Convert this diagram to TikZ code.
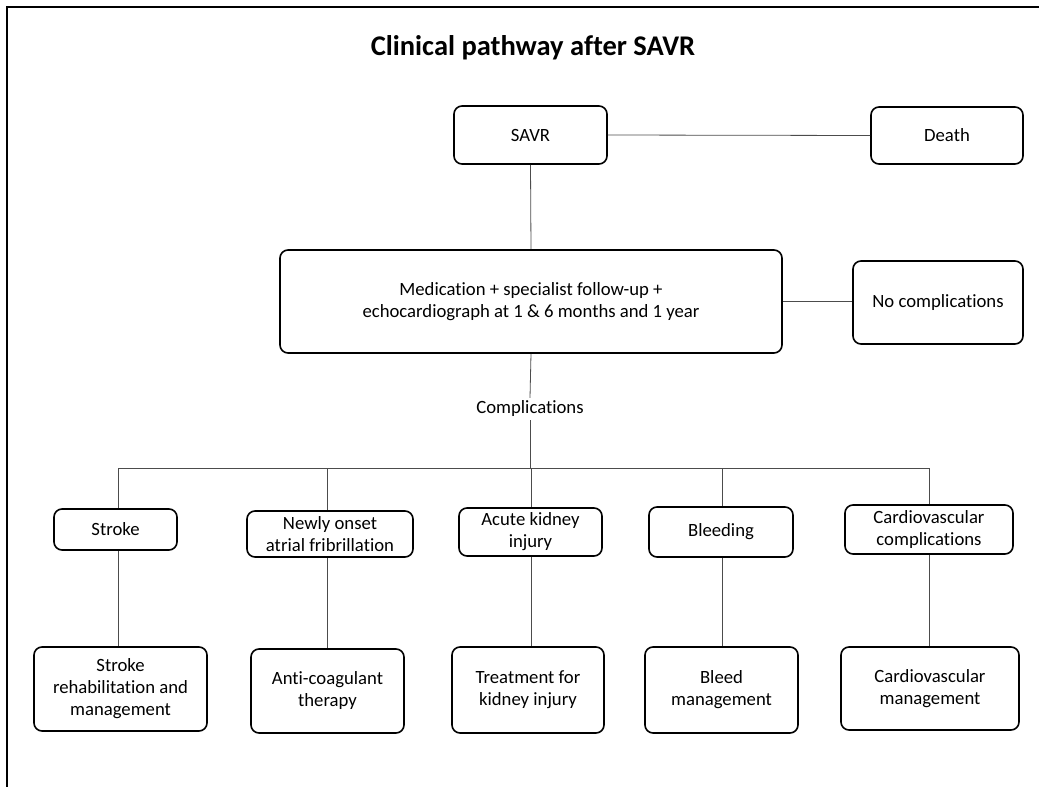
\documentclass[tikz,border=0pt]{standalone}
\usepackage{fontspec}
\setmainfont{Carlito}[Ligatures=NoCommon]
\begin{document}
\begin{tikzpicture}[x=1pt,y=-1pt,
  box/.style={draw=black, line width=1.6pt, rounded corners=8pt, fill=white, inner sep=0pt, align=center, font=\fontsize{18.7}{22}\selectfont},
  conn/.style={draw=black!70, line width=0.8pt},
  lbl/.style={inner sep=3pt, font=\fontsize{18.7}{22}\selectfont}]
\useasboundingbox (0,0) rectangle (1039,787);
\draw[line width=2pt] (7,787) -- (7,7) -- (1039,7);

\node[anchor=base, font=\fontsize{28.5}{32}\selectfont\bfseries] (title) at (533,55) {Clinical pathway after SAVR};

\node[box, minimum width=153pt, minimum height=58pt] (savr) at (530.5,135) {SAVR};
\node[box, minimum width=152pt, minimum height=57pt] (death) at (947,135.5) {Death};
\node[box, minimum width=502pt, minimum height=103pt] (med) at (531,301.5) {Medication + specialist follow-up +\\echocardiograph at 1 \& 6 months and 1 year};
\node[box, minimum width=170pt, minimum height=83pt] (nocomp) at (938,302.5) {No complications};
\node[lbl] (complab) at (530,409) {Complications};

\node[box, minimum width=123pt, minimum height=41pt] (stroke) at (115.5,529.5) {Stroke};
\node[box, minimum width=166pt, minimum height=46pt] (af) at (330,534) {Newly onset\\atrial fribrillation};
\node[box, minimum width=143pt, minimum height=48pt] (aki) at (530.5,532) {Acute kidney\\injury};
\node[box, minimum width=144pt, minimum height=50pt] (bleed) at (721,532) {Bleeding};
\node[box, minimum width=168pt, minimum height=49pt] (cvc) at (929,529.5) {Cardiovascular\\complications};

\node[box, minimum width=173pt, minimum height=84pt] (sr) at (120.5,689) {Stroke\\rehabilitation and\\management};
\node[box, minimum width=153pt, minimum height=84pt] (ac) at (327.5,691) {Anti-coagulant\\therapy};
\node[box, minimum width=152pt, minimum height=86pt] (tk) at (528,690) {Treatment for\\kidney injury};
\node[box, minimum width=153pt, minimum height=86pt] (bm) at (721.5,690) {Bleed\\management};
\node[box, minimum width=178pt, minimum height=83pt] (cm) at (930,688.5) {Cardiovascular\\management};

\coordinate (bus) at (530,468);
\coordinate (b1) at (118,468);
\coordinate (b2) at (327,468);
\coordinate (b3) at (531,468);
\coordinate (b4) at (722,468);
\coordinate (b5) at (929,468);

\draw[conn] (savr.east) -- (death.west);
\draw[conn] (savr.south) -- (med.north);
\draw[conn] (med.east) -- (med.east -| nocomp.west);
\draw[conn] (med.south) -- (complab.north);
\draw[conn] (complab.south) -- (bus);
\draw[conn] (b1) -- (b5);

\draw[conn] (b1) -- (b1 |- stroke.north);
\draw[conn] (b2) -- (b2 |- af.north);
\draw[conn] (b3) -- (b3 |- aki.north);
\draw[conn] (b4) -- (b4 |- bleed.north);
\draw[conn] (b5) -- (b5 |- cvc.north);

\draw[conn] (b1 |- stroke.south) -- (b1 |- sr.north);
\draw[conn] (b2 |- af.south) -- (b2 |- ac.north);
\draw[conn] (b3 |- aki.south) -- (b3 |- tk.north);
\draw[conn] (b4 |- bleed.south) -- (b4 |- bm.north);
\draw[conn] (b5 |- cvc.south) -- (b5 |- cm.north);
\end{tikzpicture}
\end{document}
